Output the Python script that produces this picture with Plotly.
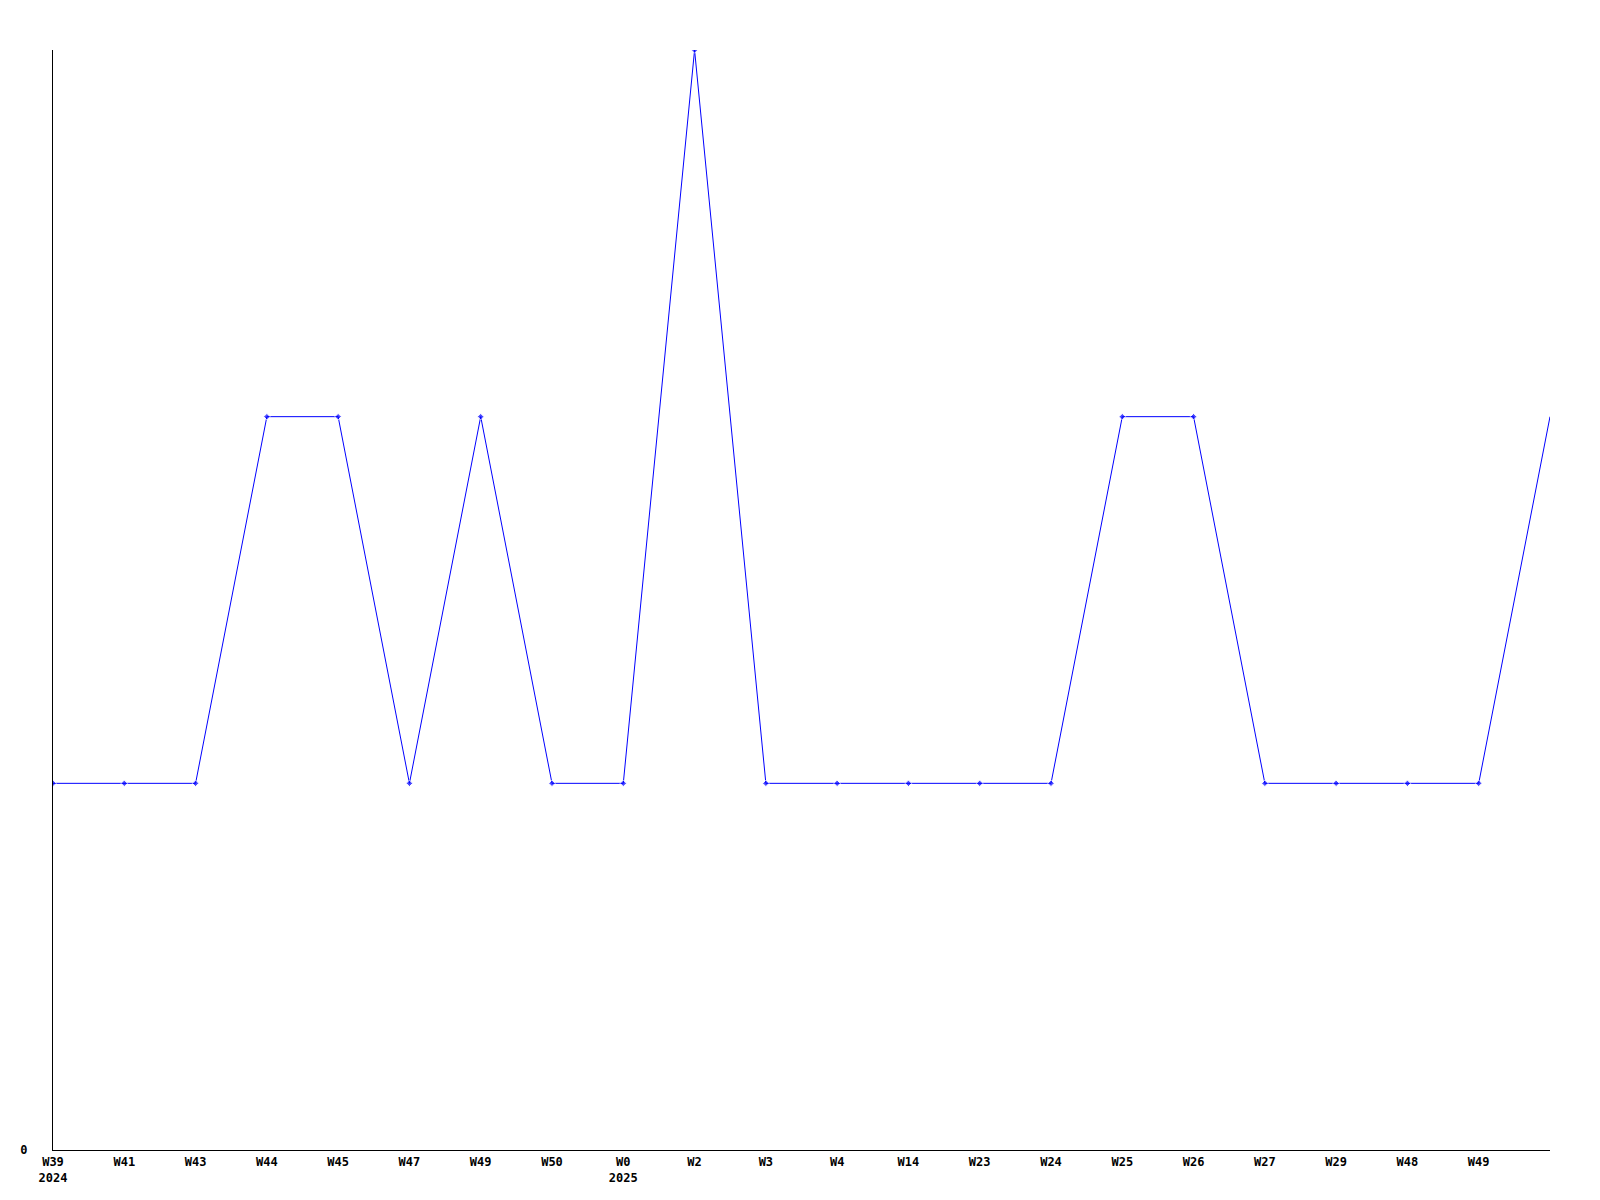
import plotly.graph_objects as go

weeks = ["W39", "W41", "W43", "W44", "W45", "W47", "W49", "W50", "W0", "W2", "W3",
         "W4", "W14", "W23", "W24", "W25", "W26", "W27", "W29", "W48", "W49", ""]
years = {0: "2024", 8: "2025"}
values = [1, 1, 1, 2, 2, 1, 2, 1, 1, 3, 1, 1, 1, 1, 1, 2, 2, 1, 1, 1, 1, 2]

x = list(range(len(values)))
ticktext = [w + ("<br>" + years[i] if i in years else "") for i, w in enumerate(weeks)]
sizes = [5] * (len(values) - 1) + [0]

fig = go.Figure()
fig.add_trace(go.Scatter(
    x=x, y=values, mode="lines+markers",
    line=dict(color="#0000ff", width=1),
    marker=dict(symbol="diamond", size=sizes, color="#0000ff"),
    showlegend=False, hoverinfo="skip", cliponaxis=True,
))

fig.update_layout(
    width=1600, height=1200,
    margin=dict(l=41, r=58, t=42, b=58),
    plot_bgcolor="white", paper_bgcolor="white",
    font=dict(family="DejaVu Sans Mono", size=12, color="black", weight="bold"),
)
fig.update_xaxes(
    range=[0, 21], tickmode="array", tickvals=x, ticktext=ticktext,
    showgrid=False, zeroline=False, showline=True, linecolor="black", linewidth=1,
    ticks="", tickangle=0, ticklabelstandoff=1,
)
fig.update_yaxes(
    range=[0, 3], tickmode="array", tickvals=[0], ticktext=["0"],
    showgrid=False, zeroline=False, showline=True, linecolor="black", linewidth=1,
    ticks="", ticklabelstandoff=22,
)

fig.write_html("out.html")
